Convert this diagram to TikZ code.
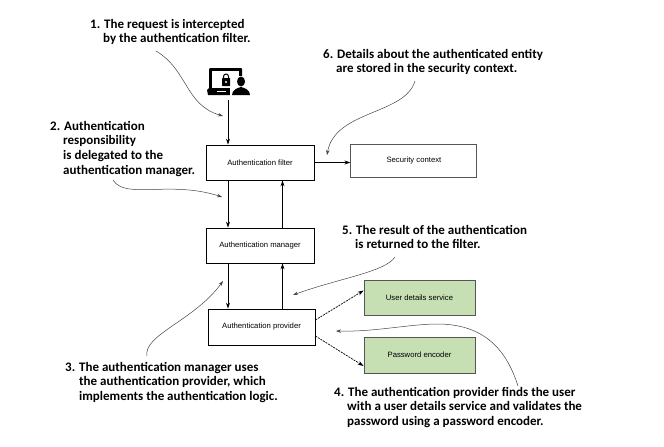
\documentclass[tikz,border=0pt]{standalone}
\usepackage{fontspec}
\setmainfont{Liberation Sans}
\newfontfamily\notefont{Carlito}
\usetikzlibrary{arrows.meta,positioning}
\definecolor{boxgreen}{HTML}{C6E0B4}
\definecolor{notegray}{HTML}{444444}
\definecolor{boxgray}{HTML}{555555}

\begin{document}
\begin{tikzpicture}[
  x=1pt, y=-1pt,
  >=Stealth,
  comp/.style={rectangle, draw=black, line width=0.8pt, minimum width=108pt, minimum height=35pt, inner sep=0pt, align=center, font=\fontsize{7.7}{9}\selectfont},
  store/.style={comp, draw=boxgray, line width=1pt, minimum width=126pt, minimum height=33pt},
  helper/.style={comp, draw=boxgray, fill=boxgreen, minimum width=111pt},
  note/.style={inner sep=0pt, anchor=north west, align=left, font=\notefont\bfseries\fontsize{13}{14.6}\selectfont},
  flow/.style={-{Stealth[length=6pt,width=4pt]}, draw=black, line width=0.8pt},
  uses/.style={-{Stealth[length=6pt,width=4pt]}, draw=black, line width=0.7pt, dash pattern=on 2pt off 1pt},
  hint/.style={-{Stealth[length=5pt,width=3.5pt]}, draw=notegray, line width=0.5pt}
]
  \useasboundingbox (0,0) rectangle (664,447);
  % boxes
  \node[comp] (filter) at (260,162.5) {Authentication filter};
  \node[store, right=36pt of filter.east, yshift=2pt, anchor=west] (context) {Security context};
  \node[comp] (manager) at (260,245.5) {Authentication manager};
  \node[comp, minimum width=107pt, minimum height=36pt] (provider) at (261.5,327) {Authentication provider};
  \node[helper] (details) at (419.5,297.5) {User details service};
  \node[helper, minimum height=36pt] (encoder) at (419.5,355) {Password encoder};
  % notes
  \node[note] (n1) at (90,19) {1. The request is intercepted\\\hspace*{13pt}by the authentication filter.};
  \node[note] (n2) at (50,121) {2. Authentication\\\hspace*{13pt}responsibility\\\hspace*{13pt}is delegated to the\\\hspace*{13pt}authentication manager.};
  \node[note] (n3) at (65,362) {3. The authentication manager uses\\\hspace*{14pt}the authentication provider, which\\\hspace*{14pt}implements the authentication logic.};
  \node[note] (n4) at (334,387) {4. The authentication provider finds the user\\\hspace*{13pt}with a user details service and validates the\\\hspace*{13pt}password using a password encoder.};
  \node[note] (n5) at (342,225) {5. The result of the authentication\\\hspace*{13pt}is returned to the filter.};
  \node[note] (n6) at (323,49) {6. Details about the authenticated entity\\\hspace*{13pt}are stored in the security context.};
  % icon
  \coordinate (device) at (228,100);
  \fill[black, rounded corners=1pt] (209,68) rectangle (242,91);
  \fill[white] (212,71) rectangle (239,88);
  \fill[black] (207,90) -- (209,88) -- (232,88) -- (232,95) -- (208,95) -- cycle;
  \fill[white] (217,90.5) rectangle (226,92);
  \fill[black, rounded corners=0.5pt] (222,78) rectangle (230,86);
  \draw[black, line width=1pt] (223.5,78) -- (223.5,76.5) arc (180:0:2.5pt) -- (228.5,78);
  \fill[white] (226,82) circle (1.2pt);
  \fill[white] (234,76) rectangle (252,96);
  \fill[white] (230,86) rectangle (252,96);
  \fill[black] (241,81.5) ellipse (4pt and 5pt);
  \fill[black] (232,95) .. controls (232,90) and (237,88) .. (241,87) .. controls (245,88) and (250,90) .. (250,95) -- cycle;
  % connectors
  \draw[flow] (device) -- ([xshift=-32pt]filter.north);
  \draw[flow] ([xshift=-32pt]filter.south) -- ([xshift=-32pt]manager.north);
  \draw[flow] ([xshift=-32pt]manager.south) -- ([xshift=-33.5pt]provider.north);
  \draw[flow] ([xshift=21pt]provider.north) -- ([xshift=22.5pt]manager.south);
  \draw[flow] ([xshift=22.5pt]manager.north) -- ([xshift=22.5pt]filter.south);
  \draw[flow] (filter.east) -- (filter.east -| context.west);
  \draw[uses] ([yshift=7pt]provider.east) -- ([yshift=7pt]details.west);
  \draw[uses] ([yshift=-9pt]provider.east) -- ([yshift=-11pt]encoder.west);
  % hints
  \coordinate (h1a) at (156,51);
  \coordinate (h1b) at (223,116);
  \draw[hint] (h1a) .. controls (188,70) and (185,105) .. (h1b);
  \coordinate (h2a) at (113,180);
  \coordinate (h2b) at (222,197);
  \draw[hint] (h2a) .. controls (125,200) and (170,180) .. (h2b);
  \coordinate (h3a) at (147,356);
  \coordinate (h3b) at (223,281);
  \draw[hint] (h3a) .. controls (143,335) and (195,320) .. (h3b);
  \coordinate (h4a) at (518,386);
  \coordinate (h4m) at (437,324);
  \coordinate (h4b) at (336,331);
  \draw[hint] (h4a) .. controls (505,345) and (480,324) .. (h4m) .. controls (410,324) and (375,332) .. (h4b);
  \coordinate (h5a) at (395,257);
  \coordinate (h5b) at (293,295);
  \draw[hint] (h5a) .. controls (385,272) and (340,278) .. (h5b);
  \coordinate (h6a) at (415,81);
  \coordinate (h6b) at (327,155);
  \draw[hint] (h6a) .. controls (405,115) and (335,110) .. (h6b);
\end{tikzpicture}
\end{document}
